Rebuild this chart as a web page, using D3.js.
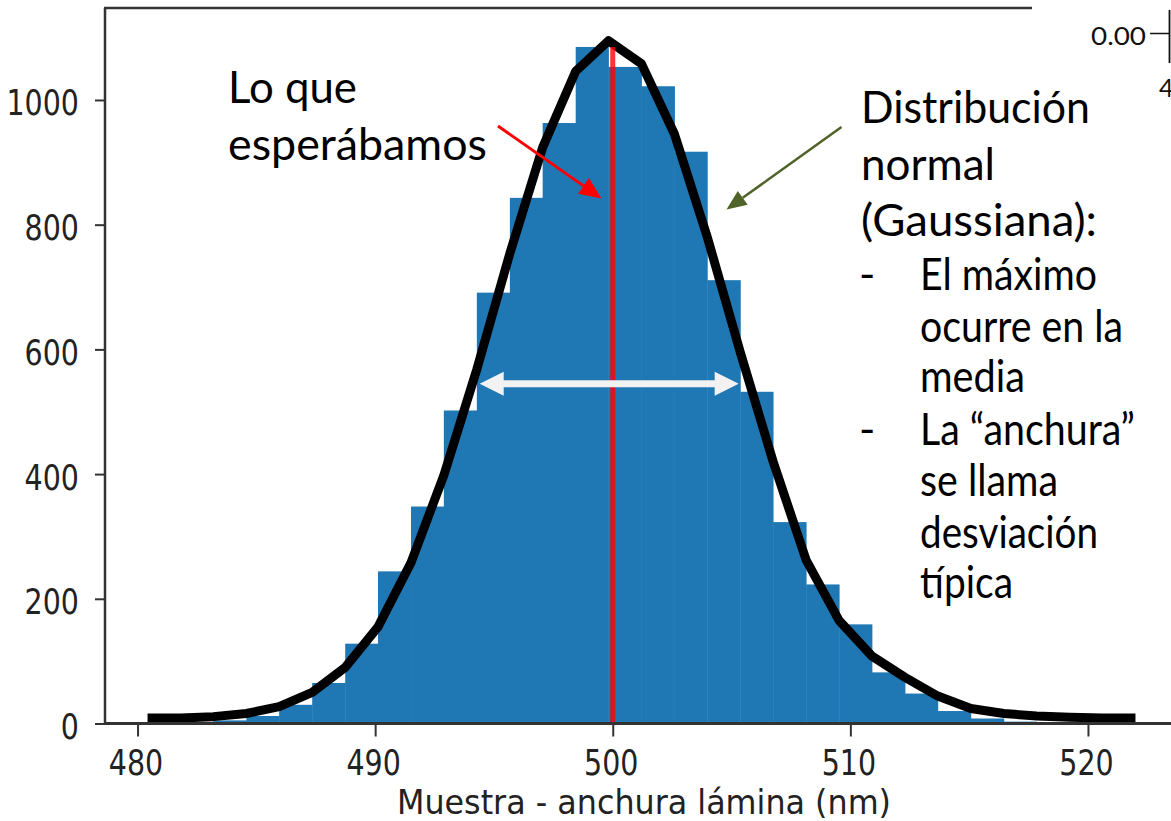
<!DOCTYPE html>
<html>
<head>
<meta charset="utf-8">
<script src="https://cdn.jsdelivr.net/npm/d3@7"></script>
<style>
  html, body { margin: 0; padding: 0; background: #ffffff; }
  svg { display: block; }
</style>
</head>
<body>
<svg id="chart" width="1171" height="821"></svg>
<script>
// Histogram bin edges (nm)
const binEdges = [480.42, 481.81, 483.19, 484.58, 485.96, 487.35, 488.74, 490.12,
  491.51, 492.89, 494.28, 495.67, 497.05, 498.44, 499.82, 501.21, 502.60, 503.98,
  505.37, 506.75, 508.14, 509.53, 510.91, 512.30, 513.68, 515.07, 516.46, 517.84,
  519.23, 520.61, 522.00];

// Number of samples in each bin
const binCounts = [1, 2, 5, 12, 30, 65, 128, 244, 348, 502, 691, 843, 963, 1085,
  1053, 1022, 917, 711, 532, 323, 223, 159, 82, 48, 20, 8, 3, 1, 1, 1];

// Fitted normal curve, evaluated at each bin edge
const curveValues = [9, 9, 11, 16, 27, 50, 90, 155, 258, 398, 568, 754, 924, 1046,
  1095, 1058, 945, 780, 595, 420, 262, 165, 108, 74, 44, 24, 16, 12, 10, 9, 9];

const xTicks = [480, 490, 500, 510, 520];
const yTicks = [0, 200, 400, 600, 800, 1000];
const expectedMean = 500;
const expectedLineTop = 1085;
const widthArrowEnds = [494.4, 505.3];
const widthArrowLevel = 545;

const svg = d3.select("#chart");

const x = d3.scaleLinear().domain([478.63, 524]).range([105, 1183]);
const y = d3.scaleLinear().domain([0, 1147.5]).range([723.5, 8]);

const axisColor = "#333333";
const tickFont = "'DejaVu Sans', sans-serif";
const stretchY = 1.24;

// Clip region for plotted data
svg.append("defs").append("clipPath").attr("id", "plotArea")
  .append("rect").attr("x", 105).attr("y", 8).attr("width", 1183 - 105).attr("height", 723.5 - 8);

const plot = svg.append("g").attr("clip-path", "url(#plotArea)");

// Histogram bars
plot.append("g").selectAll("rect")
  .data(binCounts)
  .join("rect")
  .attr("x", (d, i) => x(binEdges[i]))
  .attr("width", (d, i) => x(binEdges[i + 1]) - x(binEdges[i]) + 0.4)
  .attr("y", d => y(d))
  .attr("height", d => y(0) - y(d))
  .attr("fill", "#1f77b4");

// Normal curve
const line = d3.line()
  .x((d, i) => x(binEdges[i]))
  .y(d => y(d));

plot.append("path")
  .datum(curveValues)
  .attr("d", line)
  .attr("fill", "none")
  .attr("stroke", "#000000")
  .attr("stroke-width", 9)
  .attr("stroke-linejoin", "round");

// Expected value line
plot.append("line")
  .attr("x1", x(expectedMean)).attr("x2", x(expectedMean))
  .attr("y1", y(0)).attr("y2", y(expectedLineTop))
  .attr("stroke", "#ff0000")
  .attr("stroke-opacity", 0.8)
  .attr("stroke-width", 5);

// Axes
const yAxis = d3.axisLeft(y).tickValues(yTicks).tickSize(10).tickFormat(d3.format("d"));
const xAxis = d3.axisBottom(x).tickValues(xTicks).tickSize(13).tickFormat(d3.format("d"));

const gy = svg.append("g").attr("transform", "translate(105,0)").call(yAxis);
const gx = svg.append("g").attr("transform", "translate(0,723.5)").call(xAxis);

[gx, gy].forEach(g => {
  g.select(".domain").remove();
  g.selectAll(".tick line").attr("stroke", axisColor).attr("stroke-width", 2);
  g.selectAll(".tick text")
    .attr("font-family", tickFont)
    .attr("font-size", 28.5)
    .attr("fill", "#222222")
    .attr("x", null).attr("y", null).attr("dy", null);
});
gy.selectAll(".tick text")
  .attr("text-anchor", "end")
  .attr("transform", `translate(-26,15) scale(1,${stretchY})`);
gx.selectAll(".tick text")
  .attr("text-anchor", "middle")
  .attr("transform", `translate(-2,51.5) scale(1,${stretchY})`);

// Spines
svg.append("line").attr("x1", 105).attr("x2", 105).attr("y1", 8).attr("y2", 724)
  .attr("stroke", axisColor).attr("stroke-width", 2.5);
svg.append("line").attr("x1", 104).attr("x2", 1183).attr("y1", 723.5).attr("y2", 723.5)
  .attr("stroke", axisColor).attr("stroke-width", 3);
svg.append("line").attr("x1", 104).attr("x2", 1183).attr("y1", 8).attr("y2", 8)
  .attr("stroke", axisColor).attr("stroke-width", 2.5);

// X axis title
svg.append("text")
  .attr("transform", `translate(644,814) scale(1,${stretchY})`)
  .attr("text-anchor", "middle")
  .attr("font-family", tickFont)
  .attr("font-size", 27)
  .attr("fill", "#222222")
  .attr("textLength", 494)
  .attr("lengthAdjust", "spacingAndGlyphs")
  .text("Muestra - anchura lámina (nm)");

// Neighbouring panel in the top-right corner
svg.append("rect").attr("x", 1032).attr("y", 0).attr("width", 139).attr("height", 70).attr("fill", "#ffffff");
svg.append("text").attr("x", 1091).attr("y", 45)
  .attr("font-family", "Lato, sans-serif").attr("font-size", 25)
  .attr("textLength", 55).attr("lengthAdjust", "spacingAndGlyphs")
  .attr("fill", "#111111").text("0.00");
svg.append("line").attr("x1", 1150).attr("x2", 1169).attr("y1", 33.5).attr("y2", 33.5)
  .attr("stroke", "#111111").attr("stroke-width", 1.5);
svg.append("line").attr("x1", 1169.5).attr("x2", 1169.5).attr("y1", 10).attr("y2", 63)
  .attr("stroke", "#111111").attr("stroke-width", 1.8);
svg.append("text").attr("x", 1159).attr("y", 97)
  .attr("font-family", "Lato, sans-serif").attr("font-size", 25)
  .attr("fill", "#111111").text("4");

// Width arrow (double headed)
const arrowY = y(widthArrowLevel);
const ax1 = x(widthArrowEnds[0]), ax2 = x(widthArrowEnds[1]);
const headLen = 24, headHalf = 12, shaftHalf = 3.5;
svg.append("path")
  .attr("d", `M${ax1},${arrowY} L${ax1 + headLen},${arrowY - headHalf} L${ax1 + headLen},${arrowY - shaftHalf}
    L${ax2 - headLen},${arrowY - shaftHalf} L${ax2 - headLen},${arrowY - headHalf} L${ax2},${arrowY}
    L${ax2 - headLen},${arrowY + headHalf} L${ax2 - headLen},${arrowY + shaftHalf}
    L${ax1 + headLen},${arrowY + shaftHalf} L${ax1 + headLen},${arrowY + headHalf} Z`)
  .attr("fill", "#f2f2f2");

// Pointer arrows
function pointer(x0, y0, x1, y1, color, width, len, half) {
  const ang = Math.atan2(y1 - y0, x1 - x0);
  const bx = x1 - len * Math.cos(ang), by = y1 - len * Math.sin(ang);
  svg.append("line").attr("x1", x0).attr("y1", y0).attr("x2", bx).attr("y2", by)
    .attr("stroke", color).attr("stroke-width", width);
  const px = -Math.sin(ang) * half, py = Math.cos(ang) * half;
  svg.append("path")
    .attr("d", `M${x1},${y1} L${bx + px},${by + py} L${bx - px},${by - py} Z`)
    .attr("fill", color);
}
pointer(498, 126, 601.5, 198.5, "#ff0000", 3, 22, 9.5);
pointer(841.5, 127, 726.5, 209.5, "#4f6228", 2.5, 20, 8.5);

// Annotations
const noteFont = "Lato, sans-serif";
const notes = [
  { t: "Lo que", x: 228, y: 103, w: 129 },
  { t: "esperábamos", x: 228, y: 160, w: 259 },
  { t: "Distribución", x: 861, y: 123, w: 229 },
  { t: "normal", x: 861, y: 180, w: 134 },
  { t: "(Gaussiana):", x: 861, y: 236, w: 236 },
  { t: "El máximo", x: 920, y: 290, w: 177 },
  { t: "ocurre en la", x: 920, y: 342, w: 203 },
  { t: "media", x: 920, y: 392, w: 105 },
  { t: "La “anchura”", x: 920, y: 445, w: 215 },
  { t: "se llama", x: 920, y: 496, w: 138 },
  { t: "desviación", x: 920, y: 548, w: 178 },
  { t: "típica", x: 920, y: 598, w: 93 }
];
const bullets = [
  { t: "-", x: 859, y: 290 },
  { t: "-", x: 859, y: 445 }
];
svg.append("g").selectAll("text")
  .data(notes)
  .join("text")
  .attr("x", d => d.x)
  .attr("y", d => d.y)
  .attr("font-family", noteFont)
  .attr("font-size", 44)
  .attr("fill", "#000000")
  .attr("textLength", d => d.w)
  .attr("lengthAdjust", "spacingAndGlyphs")
  .text(d => d.t);
svg.append("g").selectAll("text")
  .data(bullets)
  .join("text")
  .attr("x", d => d.x)
  .attr("y", d => d.y)
  .attr("font-family", noteFont)
  .attr("font-size", 44)
  .attr("fill", "#000000")
  .text(d => d.t);
</script>
</body>
</html>
